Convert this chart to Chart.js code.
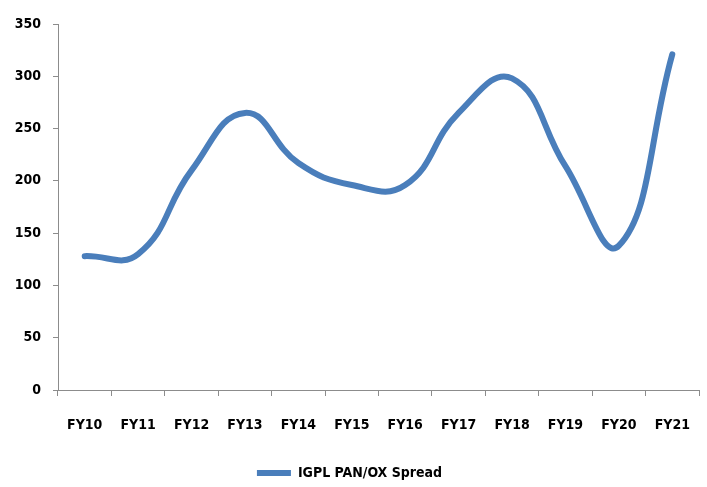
<!DOCTYPE html>
<html>
<head>
<meta charset="utf-8">
<script src="https://cdn.jsdelivr.net/npm/chart.js@4.4.1/dist/chart.umd.min.js"></script>
<style>
  html, body { margin: 0; padding: 0; background: #ffffff; }
  #wrap { width: 707px; height: 487px; position: relative; }
</style>
</head>
<body>
<div id="wrap"><canvas id="c" width="707" height="487"></canvas></div>
<script>
const categories = ["FY10","FY11","FY12","FY13","FY14","FY15","FY16","FY17","FY18","FY19","FY20","FY21"];
const spreadValues = [128, 130, 210, 265, 217, 196, 196, 265, 298, 214, 138, 321];
const seriesName = "IGPL PAN/OX Spread";
const yTicks = [0, 50, 100, 150, 200, 250, 300, 350];

const FONT = "'DejaVu Sans Condensed', 'Liberation Sans Narrow', 'Liberation Sans', sans-serif";
const axisColor = '#8c8c8c';

const shiftLegend = {
  id: 'shiftLegend',
  afterLayout(chart) {
    if (chart.legend) { chart.legend.top += 3; chart.legend.bottom += 3; }
  }
};

new Chart(document.getElementById('c'), {
  type: 'line',
  data: {
    labels: categories,
    datasets: [{
      label: seriesName,
      data: spreadValues,
      borderColor: '#4a7ebb',
      backgroundColor: '#4a7ebb',
      borderWidth: 6,
      tension: 0.45,
      pointRadius: 0,
      pointHoverRadius: 0,
      borderCapStyle: 'round',
      borderJoinStyle: 'round',
      fill: false,
      pointStyle: 'line'
    }]
  },
  plugins: [shiftLegend],
  options: {
    responsive: false,
    animation: false,
    devicePixelRatio: 1,
    layout: { padding: { left: 0, right: 8, top: 24, bottom: 0 } },
    plugins: {
      tooltip: { enabled: false },
      legend: {
        position: 'bottom',
        labels: {
          usePointStyle: true,
          pointStyleWidth: 34,
          color: '#000',
          font: { family: FONT, size: 14, weight: 'bold' },
          padding: 2
        }
      }
    },
    scales: {
      x: {
        offset: true,
        grid: { offset: true, drawOnChartArea: false, drawTicks: true, tickLength: 16, tickBorderDash: [5, 40], color: axisColor },
        border: { display: true, color: axisColor, width: 1 },
        ticks: { color: '#000', font: { family: FONT, size: 14, weight: 'bold' }, padding: 11, maxRotation: 0 },
        afterFit: s => { s.height = 71; }
      },
      y: {
        min: 0, max: 350,
        afterBuildTicks: s => { s.ticks = yTicks.map(v => ({ value: v })); },
        grid: { drawOnChartArea: false, drawTicks: true, tickLength: 5, color: axisColor },
        border: { display: true, color: axisColor, width: 1 },
        ticks: { color: '#000', font: { family: FONT, size: 14, weight: 'bold' }, padding: 12 },
        afterFit: s => { s.width = 58; }
      }
    }
  }
});
</script>
</body>
</html>
